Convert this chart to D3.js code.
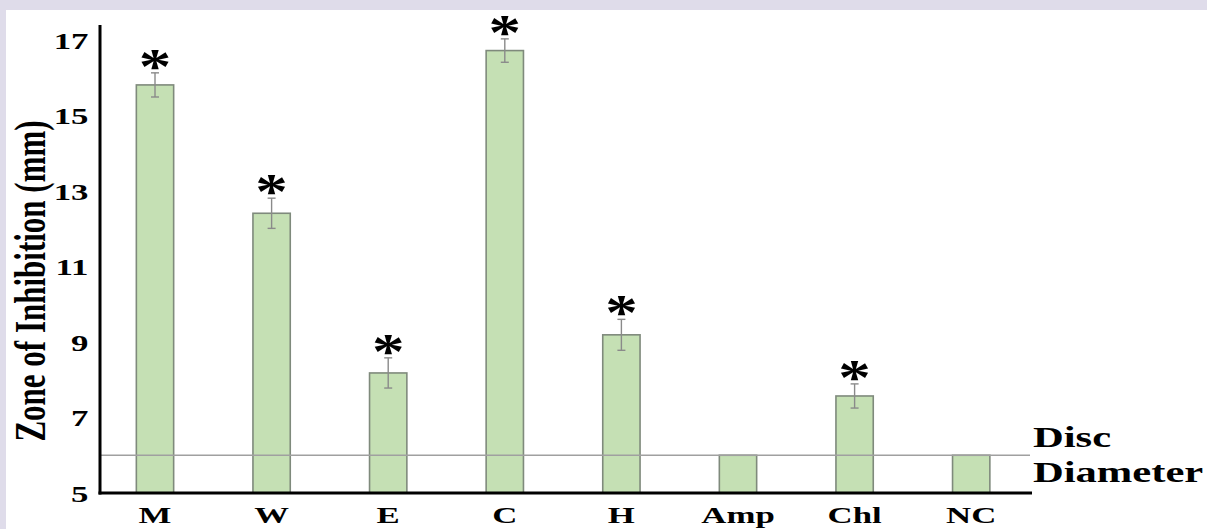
<!DOCTYPE html>
<html>
<head>
<meta charset="utf-8">
<script src="https://cdn.jsdelivr.net/npm/d3@7"></script>
<style>
  body { margin: 0; background: #dfdcea; }
  svg { display: block; }
  text { font-family: "Liberation Serif", "Times New Roman", serif; font-weight: bold; fill: #000; }
</style>
</head>
<body>
<div id="chart"></div>
<script>
// data
var categories = ["M", "W", "E", "C", "H", "Amp", "Chl", "NC"]
var zone_values = [15.81, 12.41, 8.18, 16.72, 9.19, 6.0, 7.57, 6.0]
var zone_errors = [0.32, 0.40, 0.40, 0.31, 0.41, 0, 0.32, 0]
var significant = [true, true, true, true, true, false, true, false]
var y_ticks = [5, 7, 9, 11, 13, 15, 17]
var disc_diameter = 6

var width = 1207,
    height = 529
var stretch = 1.45 // text in the figure is stretched sideways

var svg = d3.select("#chart")
    .append("svg")
    .attr("width", width)
    .attr("height", height)

// white panel on the lavender page
svg.append("rect")
    .attr("x", 6).attr("y", 10)
    .attr("width", width - 6).attr("height", height - 10)
    .attr("fill", "#ffffff")

var x = d3.scaleBand()
    .domain(categories)
    .range([96.7, 1029.5])
    .paddingInner(0.68)
    .paddingOuter(0.34)

var y = d3.scaleLinear()
    .domain([5, 17])
    .range([493, 40])

var axis_left = 100,
    axis_right = 1032

var rows = categories.map(function(c, i) {
    return {cat: c, val: zone_values[i], err: zone_errors[i], sig: significant[i]}
})

// bars
svg.selectAll(".bar")
    .data(rows)
    .enter()
    .append("rect")
    .attr("class", "bar")
    .attr("x", function(d) { return x(d.cat) })
    .attr("y", function(d) { return y(d.val) })
    .attr("width", x.bandwidth())
    .attr("height", function(d) { return y(5) - y(d.val) })
    .attr("fill", "#c5e0b4")
    .attr("stroke", "#7f8a7c")
    .attr("stroke-width", 1.6)

// disc diameter reference line
svg.append("line")
    .attr("x1", axis_left).attr("x2", 1030)
    .attr("y1", y(disc_diameter)).attr("y2", y(disc_diameter))
    .attr("stroke", "#a0a0a0")
    .attr("stroke-width", 1.6)

// error bars
var err_rows = rows.filter(function(d) { return d.err > 0 })
var eb = svg.selectAll(".err")
    .data(err_rows)
    .enter()
    .append("g")
    .attr("class", "err")
    .attr("stroke", "#8a8a8a")
    .attr("stroke-width", 1.4)
eb.append("line")
    .attr("x1", function(d) { return x(d.cat) + x.bandwidth() / 2 })
    .attr("x2", function(d) { return x(d.cat) + x.bandwidth() / 2 })
    .attr("y1", function(d) { return y(d.val + d.err) })
    .attr("y2", function(d) { return y(d.val - d.err) })
eb.selectAll(".cap")
    .data(function(d) { return [[d.cat, d.val + d.err], [d.cat, d.val - d.err]] })
    .enter()
    .append("line")
    .attr("x1", function(d) { return x(d[0]) + x.bandwidth() / 2 - 4 })
    .attr("x2", function(d) { return x(d[0]) + x.bandwidth() / 2 + 4 })
    .attr("y1", function(d) { return y(d[1]) })
    .attr("y2", function(d) { return y(d[1]) })

// significance asterisks
svg.selectAll(".star")
    .data(rows.filter(function(d) { return d.sig }))
    .enter()
    .append("text")
    .attr("class", "star")
    .attr("transform", function(d) {
        return "translate(" + (x(d.cat) + x.bandwidth() / 2) + "," + (y(d.val + d.err) + 10) + ") scale(1.3,1)"
    })
    .attr("text-anchor", "middle")
    .style("font-size", "50px")
    .text("*")

// axes
var yAxis = svg.append("g")
    .attr("transform", "translate(" + axis_left + ",0)")
    .call(d3.axisLeft(y).tickValues(y_ticks).tickSize(0).tickPadding(8))
yAxis.select(".domain").remove()
yAxis.selectAll("text")
    .attr("transform", "scale(" + stretch + ",1)")
    .attr("dy", "0.34em")
    .style("font-size", "24px")
    .style("font-family", "Liberation Serif")

var xAxis = svg.append("g")
    .attr("transform", "translate(0," + y(5) + ")")
    .call(d3.axisBottom(x).tickSize(0).tickPadding(0))
xAxis.select(".domain").remove()
xAxis.selectAll("text")
    .attr("y", 0)
    .attr("dy", 0)
    .attr("transform", "translate(0,30) scale(" + stretch + ",1)")
    .style("font-size", "24px")
    .style("font-family", "Liberation Serif")

svg.append("line")
    .attr("x1", axis_left).attr("x2", axis_left)
    .attr("y1", 25).attr("y2", y(5) + 1.5)
    .attr("stroke", "#000").attr("stroke-width", 3)
svg.append("line")
    .attr("x1", axis_left - 1.5).attr("x2", axis_right)
    .attr("y1", y(5)).attr("y2", y(5))
    .attr("stroke", "#000").attr("stroke-width", 3)

// y axis title
svg.append("text")
    .attr("transform", "translate(45,281) scale(" + stretch + ",1) rotate(-90)")
    .attr("text-anchor", "middle")
    .style("font-size", "31px")
    .text("Zone of Inhibition (mm)")

// disc diameter label
svg.append("text")
    .attr("transform", "translate(1033,447) scale(1.42,1)")
    .style("font-size", "30px")
    .text("Disc")
svg.append("text")
    .attr("transform", "translate(1033,482) scale(1.42,1)")
    .style("font-size", "30px")
    .text("Diameter")
</script>
</body>
</html>
